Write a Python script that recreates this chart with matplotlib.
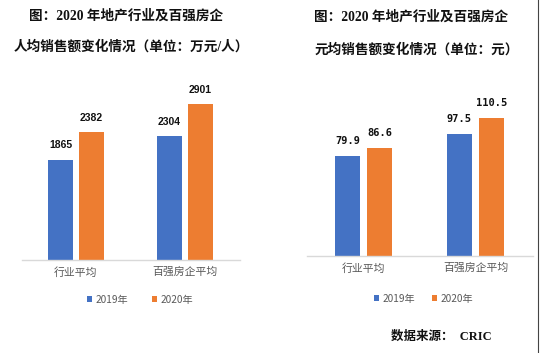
import matplotlib
matplotlib.use("Agg")
import matplotlib.pyplot as plt
from matplotlib.lines import Line2D
from matplotlib.patches import Patch
import numpy as np

W, H = 540, 353
DPI = 100

categories = ["行业平均", "百强房企平均"]
series_names = ["2019年", "2020年"]
per_capita_2019 = [1865, 2304]
per_capita_2020 = [2382, 2901]
per_yuan_2019 = [79.9, 97.5]
per_yuan_2020 = [86.6, 110.5]
per_yuan_labels_2019 = ["79.9", "97.5"]
per_yuan_labels_2020 = ["86.6", "110.5"]

BLUE = "#4472C4"
ORANGE = "#ED7D31"
GRAY_TXT = "#595959"
AXIS_GRAY = "#D9D9D9"

CJK = ["Noto Sans CJK SC", "DejaVu Sans"]
SERIF_CJK = ["Liberation Serif", "Noto Sans CJK SC", "DejaVu Sans"]
plt.rcParams["font.family"] = CJK

fig = plt.figure(figsize=(W / DPI, H / DPI), dpi=DPI)
fig.patch.set_facecolor("white")


def px_axes(x0, x1, ytop, ybot):
    return fig.add_axes([x0 / W, 1 - ybot / H, (x1 - x0) / W, (ybot - ytop) / H])


def draw_panel(ax, v19, v20, lab19, lab20, xlim, ytop, bw, off, label_font):
    x = np.arange(len(categories))
    b1 = ax.bar(x - off, v19, width=bw, color=BLUE, label=series_names[0])
    b2 = ax.bar(x + off, v20, width=bw, color=ORANGE, label=series_names[1])
    for bars, labs in ((b1, lab19), (b2, lab20)):
        for rect, lab in zip(bars, labs):
            ax.annotate(lab, (rect.get_x() + rect.get_width() / 2, rect.get_height()),
                        xytext=(0, 14.5), textcoords="offset pixels",
                        ha="center", va="center", fontsize=7.5, fontweight="bold",
                        family=label_font, color="#111111")
    ax.set_xlim(*xlim)
    ax.set_ylim(0, ytop)
    ax.set_xticks(x)
    ax.set_xticklabels(categories, fontsize=7.8, color=GRAY_TXT)
    ax.tick_params(axis="x", length=0, pad=5)
    ax.set_yticks([])
    for s in ("top", "right", "left"):
        ax.spines[s].set_visible(False)
    ax.spines["bottom"].set_color(AXIS_GRAY)
    ax.spines["bottom"].set_linewidth(1.0)
    ax.set_facecolor("none")
    return b1, b2


# Left panel
axL = px_axes(22, 240, 60, 260)
bL = draw_panel(axL, per_capita_2019, per_capita_2020,
                [str(v) for v in per_capita_2019], [str(v) for v in per_capita_2020],
                (-0.495, 1.505), 1865 * 200 / 100, 0.229, 0.142,
                ["Liberation Sans", "DejaVu Sans"])

# Right panel
axR = px_axes(307, 533, 60, 256)
bR = draw_panel(axR, per_yuan_2019, per_yuan_2020,
                per_yuan_labels_2019, per_yuan_labels_2020,
                (-0.504, 1.513), 79.9 * 196 / 100, 0.223, 0.143,
                ["DejaVu Sans Mono", "DejaVu Sans"])

# Legends
def add_legend(cx, cy, spacing):
    handles = [Patch(facecolor=BLUE, edgecolor="none"), Patch(facecolor=ORANGE, edgecolor="none")]
    leg = fig.legend(handles, series_names, loc="center", ncol=2,
                     bbox_to_anchor=(cx / W, 1 - cy / H), frameon=False,
                     handlelength=0.55, handleheight=0.55, handletextpad=0.35,
                     columnspacing=spacing, prop={"size": 7.3, "family": CJK})
    for t in leg.get_texts():
        t.set_color(GRAY_TXT)

add_legend(140, 300, 2.3)
add_legend(423.5, 299, 1.6)

# Titles
tkw = dict(ha="center", va="center", fontsize=9.8, fontweight="bold",
           family=SERIF_CJK, color="#111111")
fig.text(126 / W, 1 - 16 / H, "图：2020 年地产行业及百强房企", **tkw)
fig.text(131 / W, 1 - 47 / H, "人均销售额变化情况（单位：万元/人）", **tkw)
fig.text(411 / W, 1 - 17 / H, "图：2020 年地产行业及百强房企", **tkw)
fig.text(417 / W, 1 - 50 / H, "元均销售额变化情况（单位：元）", **tkw)

# Source
fig.text(441 / W, 1 - 337 / H, "数据来源：  CRIC", ha="center", va="center",
         fontsize=9, fontweight="bold", family=SERIF_CJK, color="#111111")

# Right border line
fig.add_artist(Line2D([538 / W, 538 / W], [0, 1], transform=fig.transFigure,
                      color="#444444", linewidth=0.8))

fig.savefig("out.png", dpi=DPI, facecolor="white")
